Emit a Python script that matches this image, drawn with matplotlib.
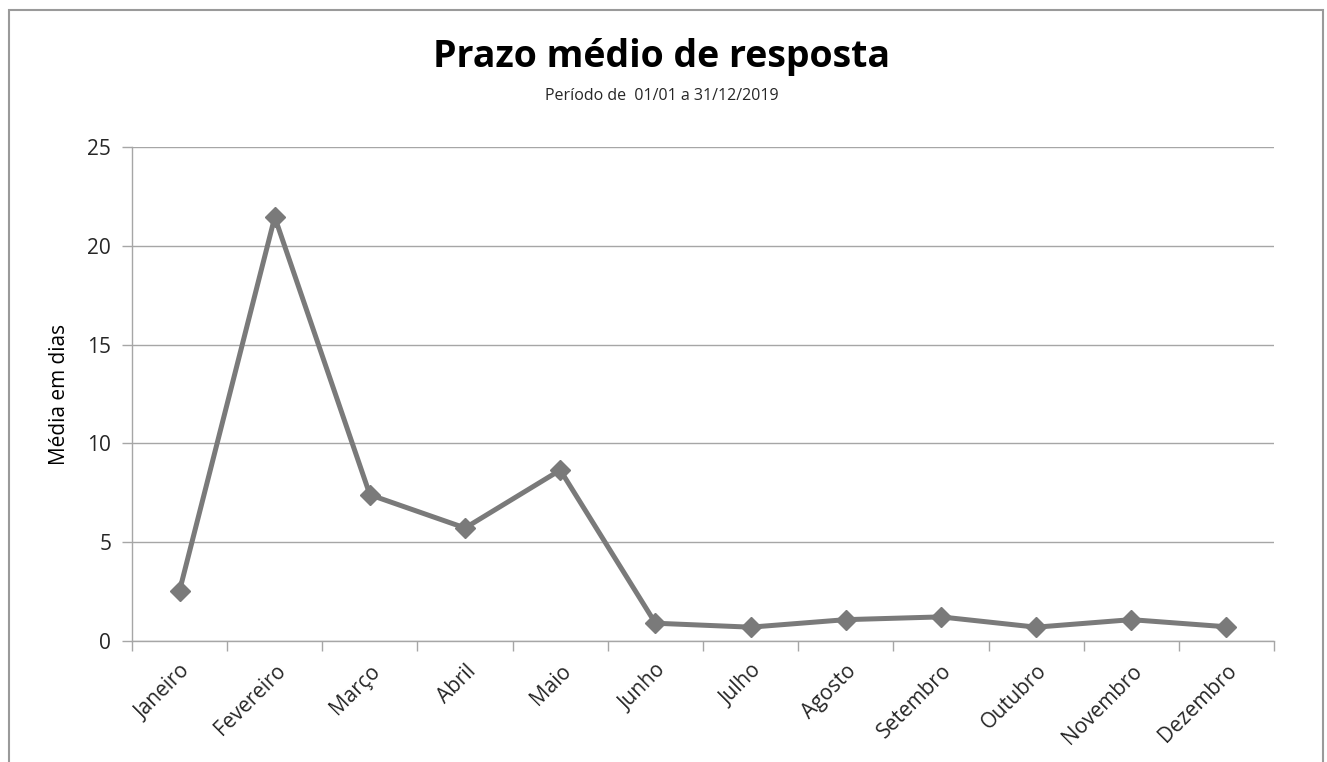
import matplotlib
matplotlib.use("Agg")
import matplotlib.pyplot as plt
from matplotlib.patches import Rectangle
import numpy as np

months = ["Janeiro", "Fevereiro", "Março", "Abril", "Maio", "Junho",
          "Julho", "Agosto", "Setembro", "Outubro", "Novembro", "Dezembro"]
values = [2.55, 21.45, 7.4, 5.72, 8.65, 0.9, 0.7, 1.08, 1.22, 0.7, 1.08, 0.72]
yticks = [0, 5, 10, 15, 20, 25]

title = "Prazo médio de resposta"
subtitle = "Período de  01/01 a 31/12/2019"
ylabel = "Média em dias"

plt.rcParams['font.family'] = ['Open Sans', 'DejaVu Sans']

W, H = 1327, 762
fig = plt.figure(figsize=(W / 100, H / 100), dpi=100)
fig.patch.set_facecolor('white')

ax = fig.add_axes([132 / W, (H - 641) / H, (1274 - 132) / W, (641 - 147) / H])

x = np.arange(len(months))
ax.plot(x, values, color='#7a7a7a', linewidth=3.6, marker='D', markersize=10,
        markerfacecolor='#7a7a7a', markeredgecolor='#7a7a7a', zorder=3,
        solid_joinstyle='miter')

ax.set_xlim(-0.5, len(months) - 0.5)
ax.set_ylim(0, 25)
ax.set_yticks(yticks)
ax.set_yticklabels([str(v) for v in yticks], fontsize=15, color='#262626')
ax.yaxis.grid(True, color='#a6a6a6', linewidth=1.0)
ax.set_axisbelow(True)

# category labels at centers, ticks at boundaries
ax.set_xticks(np.arange(-0.5, len(months) + 0.5, 1.0))
ax.set_xticklabels([])
ax.set_xticks(x, minor=True)
ax.set_xticklabels(months, minor=True, rotation=45, ha='right',
                   rotation_mode='anchor', fontsize=15, color='#262626')
ax.tick_params(axis='x', which='major', length=7, color='#a6a6a6', width=1)
ax.tick_params(axis='x', which='minor', length=0, pad=14)
ax.tick_params(axis='y', length=7, color='#a6a6a6', width=1, pad=8)

for s in ['top', 'right']:
    ax.spines[s].set_visible(False)
for s in ['left', 'bottom']:
    ax.spines[s].set_color('#a6a6a6')
    ax.spines[s].set_linewidth(1.0)

ax.set_ylabel(ylabel, fontsize=15, color='black', labelpad=12)

fig.text(662 / W, 1 - 57 / H, title, ha='center', va='center',
         fontsize=27, fontweight='bold', color='black')
fig.text(662 / W, 1 - 96 / H, subtitle, ha='center', va='center',
         fontsize=11.5, color='#262626')

fig.patches.append(Rectangle((8.5 / W, -0.05), (1323 - 8.5) / W, 1.05 - 9.5 / H,
                             transform=fig.transFigure, fill=False,
                             edgecolor='#9a9a9a', linewidth=1.5))

fig.savefig('out.png', dpi=100)
